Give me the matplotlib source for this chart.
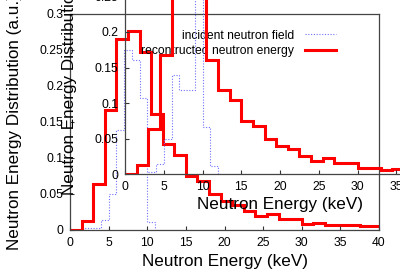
import numpy as np
import matplotlib
matplotlib.use("Agg")
import matplotlib.pyplot as plt

plt.rcParams['font.family'] = ['Liberation Sans', 'DejaVu Sans']

# reconstructed spectrum, 1.5 keV bins
red_edges = np.arange(0, 40.6, 1.5)
red_vals = [0, 0.0125, 0.064, 0.167, 0.265, 0.277, 0.247, 0.161, 0.119,
            0.104, 0.075, 0.068, 0.05, 0.04, 0.035, 0.0257, 0.019, 0.0224,
            0.0154, 0.0154, 0.0088, 0.0095, 0.0065, 0.0072, 0.0068, 0.0058,
            0.0055]

# incident neutron field, 1 keV bins (main plot)
blue_edges = np.arange(0, 41, 1.0)
blue_main = [0, 0, 0.003, 0.003, 0.014, 0.05, 0.139, 0.25, 0.236, 0.183,
             0.0115] + [0] * 29
# incident neutron field (inset)
blue_inset = [0, 0, 0, 0.003, 0.014, 0.05, 0.139, 0.118, 0.118, 0.3,
              0.066, 0.0117] + [0] * 28

xticks = [0, 5, 10, 15, 20, 25, 30, 35, 40]
yticks = [0, 0.05, 0.1, 0.15, 0.2, 0.25, 0.3]
yticklabels = ['0', '0.05', '0.1', '0.15', '0.2', '0.25', '0.3']

RED = '#ff0000'
BLUE = '#7070ff'

fig = plt.figure(figsize=(4, 2.8), dpi=100)

def style(ax):
    ax.set_xlim(0, 40)
    ax.set_ylim(0, 0.3)
    ax.set_xticks(xticks)
    ax.set_xticklabels([str(t) for t in xticks])
    ax.set_yticks(yticks)
    ax.set_yticklabels(yticklabels)
    ax.tick_params(direction='in', length=3, width=0.8, labelsize=8.7,
                   top=False, right=False, colors='#333333',
                   labelcolor='black')
    ax.tick_params(axis='x', pad=5)
    ax.tick_params(axis='y', pad=5)
    for s in ax.spines.values():
        s.set_color('#444444')
        s.set_linewidth(0.9)
    ax.patch.set_alpha(0)

main = fig.add_axes([70/400, 1-230/280, 309/400, 216/280])
style(main)
main.stairs(blue_main, blue_edges, color=BLUE, lw=0.8, ls=(0, (1, 1.5)),
            label='incident neutron field')
main.stairs(red_vals, red_edges, color=RED, lw=2.2,
            label='recontructed neutron energy')
main.set_xlabel('Neutron Energy (keV)', fontsize=12.3)
main.xaxis.set_label_coords(0.5, -0.111)
main.set_ylabel('Neutron Energy Distribution (a.u.)', fontsize=12.3)
main.yaxis.set_label_coords(-0.155, 0.5)

leg = main.legend(loc='upper right', bbox_to_anchor=(0.875, 0.95),
                  frameon=False, fontsize=8.7, markerfirst=False,
                  handlelength=2.5, handletextpad=0.9, labelspacing=0.3,
                  borderaxespad=0)

inset = fig.add_axes([125/400, 1-174.3/280, 310/400, 213.6/280])
style(inset)
inset.stairs(blue_inset, blue_edges, color=BLUE, lw=0.8, ls=(0, (1, 1.5)))
inset.stairs(red_vals, red_edges, color=RED, lw=2.2)
inset.set_xlabel('Neutron Energy (keV)', fontsize=12.3)
inset.xaxis.set_label_coords(0.5, -0.106)
inset.set_ylabel('Neutron Energy Distribution (a.u.)', fontsize=12.3)
inset.yaxis.set_label_coords(-0.155, 0.5)

fig.savefig('out.png', dpi=100)
